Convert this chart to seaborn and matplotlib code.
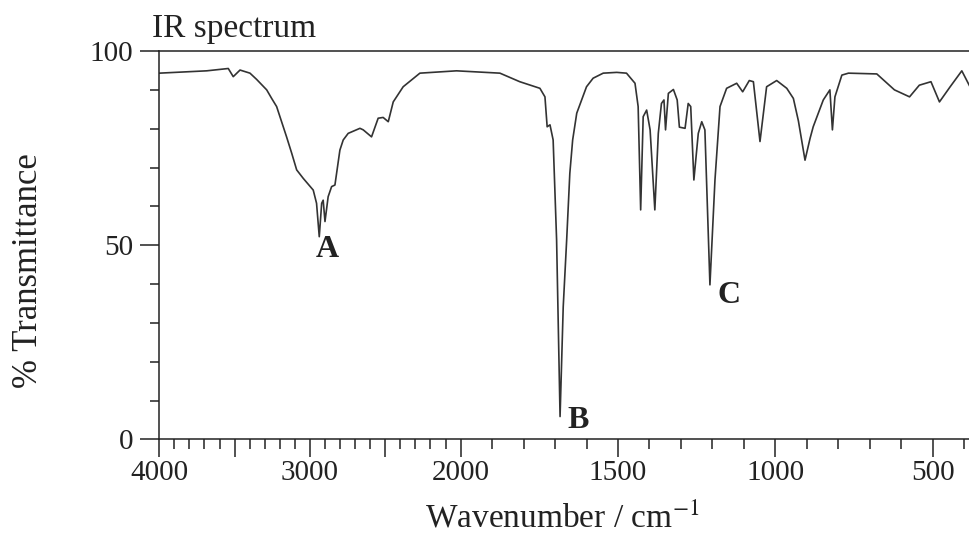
import numpy as np
import matplotlib
matplotlib.use('Agg')
import matplotlib.pyplot as plt
import seaborn as sns

# Spectrum (wavenumber in cm-1, % transmittance)
wavenumber = [4000, 3685, 3542, 3509, 3464, 3398, 3354, 3287, 3254, 3221,
              3188, 3155, 3121, 3088, 3044, 2978, 2956, 2938, 2922, 2912,
              2900, 2879, 2856, 2834, 2801, 2779, 2746, 2668, 2646, 2591,
              2547, 2514, 2480, 2447, 2381, 2270, 2027, 1875, 1812, 1748,
              1732, 1725, 1716, 1706, 1695, 1684, 1674, 1663, 1653, 1644,
              1631, 1600, 1579, 1547, 1504, 1473, 1446, 1436, 1428, 1420,
              1409, 1398, 1383, 1372, 1362, 1354, 1349, 1340, 1324, 1312,
              1305, 1287, 1277, 1269, 1259, 1245, 1234, 1224, 1208, 1192,
              1176, 1155, 1123, 1104, 1083, 1070, 1049, 1028, 996, 964,
              943, 927, 906, 890, 880, 848, 827, 819, 811, 789,
              768, 678, 622, 574, 543, 506, 479, 445, 408, 382]
transmittance = [94.3, 94.9, 95.5, 93.4, 95.1, 94.3, 92.7, 90.0, 87.8, 85.7,
                 81.8, 77.9, 73.7, 69.4, 67.2, 64.2, 60.8, 52.2, 60.8, 61.6,
                 56.1, 62.5, 65.1, 65.5, 74.5, 77.1, 78.8, 80.1, 79.7, 77.9,
                 82.7, 82.9, 81.8, 86.9, 90.8, 94.3, 94.9, 94.3, 92.1, 90.4,
                 88.2, 80.5, 81.0, 77.1, 51.4, 5.9, 34.1, 51.4, 68.5, 77.1,
                 84.0, 90.8, 93.0, 94.3, 94.5, 94.3, 91.7, 85.7, 59.1, 83.1,
                 84.8, 79.7, 59.1, 78.8, 86.5, 87.4, 79.7, 89.1, 90.1, 87.4,
                 80.4, 80.1, 86.5, 85.7, 66.8, 78.8, 81.8, 79.7, 39.8, 66.8,
                 85.7, 90.4, 91.7, 89.5, 92.4, 92.1, 76.7, 90.8, 92.4, 90.4,
                 87.8, 82.0, 71.9, 77.5, 80.5, 87.4, 90.0, 79.7, 88.2, 93.8,
                 94.3, 94.1, 90.0, 88.2, 91.2, 92.1, 86.9, 90.8, 94.9, 90.8]

peak_labels = ['A', 'B', 'C']
peak_wn = [2884, 1627, 1148]
peak_t = [48.9, 5.0, 37.1]

sns.set_theme(style='ticks')
plt.rcParams['font.family'] = ['Liberation Serif', 'DejaVu Serif']
plt.rcParams['mathtext.fontset'] = 'stix'

ink = '#222222'

# x axis is stretched below 2000 cm-1 (about twice as wide per unit)
k = 2.09


def fwd(x):
    x = np.asarray(x, dtype=float)
    return np.where(x >= 2000, x, 2000 - k * (2000 - x))


def inv(u):
    u = np.asarray(u, dtype=float)
    return np.where(u >= 2000, u, 2000 - (2000 - u) / k)


fig = plt.figure(figsize=(9.7, 5.37), dpi=100)
ax = fig.add_axes([0.1642, 0.1816, 0.8358, 0.7234])

sns.lineplot(x=wavenumber, y=transmittance, ax=ax, sort=False, estimator=None,
             color='#333333', linewidth=1.2)

ax.set_xscale('function', functions=(fwd, inv))
ax.set_xlim(4000, 382)
ax.set_ylim(0, 100)

ax.set_xticks(np.arange(4000, 400, -500))
ax.set_xticklabels(['4000', '', '3000', '', '2000', '1500', '1000', '500'])
ax.set_xticks(np.arange(4000, 399, -100), minor=True)
ax.set_yticks([0, 50, 100])
ax.set_yticks(np.arange(0, 101, 10), minor=True)

ax.tick_params(axis='x', which='major', direction='out', length=13, width=1.1,
               color=ink, labelsize=21, labelcolor=ink, pad=2)
ax.tick_params(axis='x', which='minor', direction='out', length=7, width=1.1, color=ink)
ax.tick_params(axis='y', which='major', direction='out', length=14, width=1.1,
               color=ink, labelsize=21, labelcolor=ink, pad=5)
ax.tick_params(axis='y', which='minor', direction='out', length=6.5, width=1.1, color=ink)

for side in ['left', 'bottom', 'top']:
    ax.spines[side].set_linewidth(1.1)
    ax.spines[side].set_color(ink)
ax.spines['right'].set_visible(False)
ax.set_xlabel('')
ax.set_ylabel('')

# Peak labels
for lab, w, t in zip(peak_labels, peak_wn, peak_t):
    ax.text(w, t, lab, ha='center', va='center', fontsize=23,
            fontweight='bold', color=ink)

fig.text(152 / 970, 1 - 37 / 537, 'IR spectrum', ha='left', va='baseline',
         fontsize=24, color=ink)
fig.text(29 / 970, 1 - 271 / 537, '% Transmittance', ha='center', va='center',
         rotation=90, fontsize=25, color=ink)
fig.text(562 / 970, 1 - 528 / 537, r'Wavenumber / cm$^{-1}$', ha='center',
         va='baseline', fontsize=24, color=ink)

fig.savefig('out.png', dpi=100)
